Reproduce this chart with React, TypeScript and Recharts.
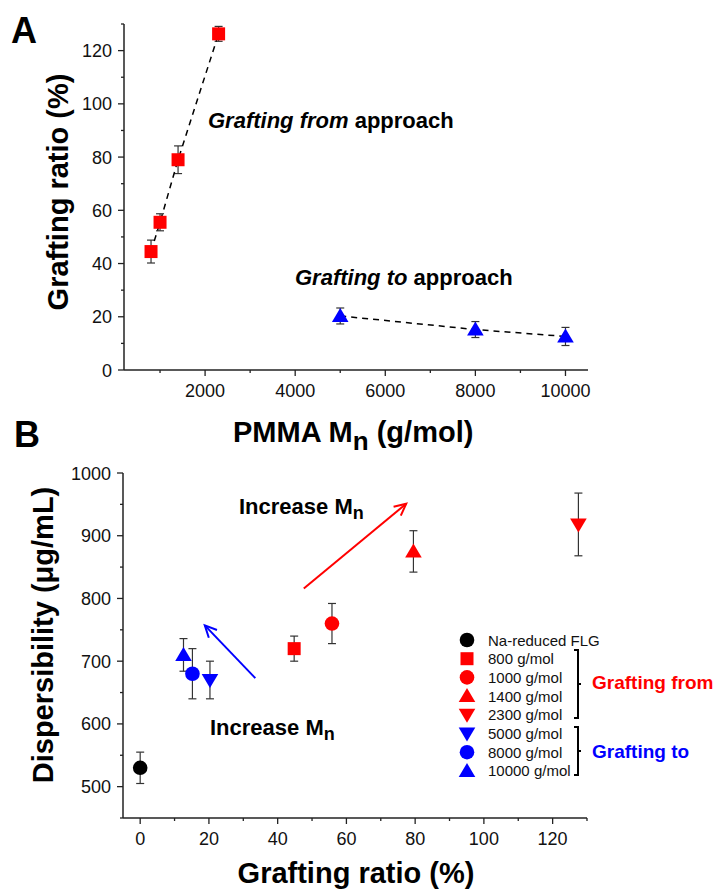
import {
  ScatterChart,
  Scatter,
  XAxis,
  YAxis,
  ErrorBar,
  ReferenceLine,
} from "recharts";

// Panel A: grafting ratio vs PMMA Mn
const mnFrom = [800, 1000, 1400, 2300];
const ratioFrom = [44.5, 55.5, 79, 126.3];
const ratioFromErr = [4.3, 3.2, 5.2, 2.8];
const mnTo = [5000, 8000, 10000];
const ratioTo = [20.3, 15.2, 12.6];
const ratioToErr = [3, 3, 3.4];

// Panel B: dispersibility vs grafting ratio
const seriesNames = [
  "Na-reduced FLG",
  "800 g/mol",
  "1000 g/mol",
  "1400 g/mol",
  "2300 g/mol",
  "5000 g/mol",
  "8000 g/mol",
  "10000 g/mol",
];
const seriesRatio = [0, 44.8, 55.8, 79.5, 127.5, 20.3, 15.2, 12.6];
const seriesDisp = [530, 720, 760, 875, 918, 670, 680, 710];
const seriesDispErr = [25, 20, 32, 33, 50, 30, 40, 26];

// arrows, in data units [ratio, dispersibility]
const arrowFromStart = [47.6, 816];
const arrowFromEnd = [77.4, 951];
const arrowToStart = [33.5, 673];
const arrowToEnd = [18.8, 757];

// tick values
const ticksAX = [1000, 2000, 3000, 4000, 5000, 6000, 7000, 8000, 9000, 10000];
const ticksAY = [0, 10, 20, 30, 40, 50, 60, 70, 80, 90, 100, 110, 120, 130];
const ticksBX = [0, 10, 20, 30, 40, 50, 60, 70, 80, 90, 100, 110, 120, 130];
const ticksBY = [450, 500, 550, 600, 650, 700, 750, 800, 850, 900, 950, 1000];

const RED = "#ff0000";
const BLUE = "#0000ff";
const AXIS = "#222";
const FONT = "'Liberation Sans', Arial, sans-serif";

const seriesShape = ["circle", "square", "circle", "up", "down", "down", "circle", "up"];
const seriesColor = ["#000", RED, RED, RED, RED, BLUE, BLUE, BLUE];

const marker = (kind: string, cx: number, cy: number, color: string) => {
  switch (kind) {
    case "square":
      return <rect x={cx - 6.5} y={cy - 6.5} width={13} height={13} fill={color} />;
    case "circle":
      return <circle cx={cx} cy={cy} r={7.3} fill={color} />;
    case "up":
      return <path d={`M${cx},${cy - 8} L${cx + 8.3},${cy + 6} L${cx - 8.3},${cy + 6} Z`} fill={color} />;
    default:
      return <path d={`M${cx},${cy + 8} L${cx + 8.3},${cy - 6} L${cx - 8.3},${cy - 6} Z`} fill={color} />;
  }
};

const makeTick = (orient: "x" | "y", step: number) => (props: any) => {
  const { x, y, payload } = props;
  const v = payload.value;
  const major = v % step === 0;
  const len = major ? 6 : 3;
  if (orient === "x") {
    return (
      <g>
        <line x1={x} y1={y} x2={x} y2={y + len} stroke={AXIS} strokeWidth={1.3} />
        {major && (
          <text x={x} y={y + 26.5} textAnchor="middle" fontSize={18} fill="#111" fontFamily={FONT}>
            {v}
          </text>
        )}
      </g>
    );
  }
  return (
    <g>
      <line x1={x} y1={y} x2={x - len} y2={y} stroke={AXIS} strokeWidth={1.3} />
      {major && (
        <text x={x - 12} y={y + 6.5} textAnchor="end" fontSize={18} fill="#111" fontFamily={FONT}>
          {v}
        </text>
      )}
    </g>
  );
};

const Arrow = (color: string) => (p: any) => {
  const { x1, y1, x2, y2 } = p;
  const ang = Math.atan2(y2 - y1, x2 - x1);
  const h = 13;
  const a1 = ang + Math.PI - 0.45;
  const a2 = ang + Math.PI + 0.45;
  return (
    <g stroke={color} strokeWidth={2} fill="none">
      <line x1={x1} y1={y1} x2={x2} y2={y2} />
      <path
        d={`M${x2 + h * Math.cos(a1)},${y2 + h * Math.sin(a1)} L${x2},${y2} L${x2 + h * Math.cos(a2)},${y2 + h * Math.sin(a2)}`}
      />
    </g>
  );
};

const fromRows = mnFrom.map((x, i) => ({ x, y: ratioFrom[i], err: ratioFromErr[i] }));
const toRows = mnTo.map((x, i) => ({ x, y: ratioTo[i], err: ratioToErr[i] }));

const dashLine = { stroke: "#000", strokeWidth: 1.5, strokeDasharray: "6 5" };

const ChartA = () => (
  <ScatterChart width={715} height={400} margin={{ top: 24, right: 127, bottom: 0, left: 74 }}>
    <XAxis
      type="number"
      dataKey="x"
      domain={[200, 10500]}
      ticks={ticksAX}
      interval={0}
      height={30}
      tickSize={0}
      tickMargin={0}
      tickLine={false}
      axisLine={{ stroke: AXIS, strokeWidth: 1.5 }}
      tick={makeTick("x", 2000)}
    />
    <YAxis
      type="number"
      dataKey="y"
      domain={[0, 130]}
      ticks={ticksAY}
      interval={0}
      width={50}
      tickSize={0}
      tickMargin={0}
      tickLine={false}
      axisLine={{ stroke: AXIS, strokeWidth: 1.5 }}
      tick={makeTick("y", 20)}
    />
    <Scatter
      data={fromRows}
      line={dashLine}
      isAnimationActive={false}
      shape={(p: any) => marker("square", p.cx, p.cy, RED)}
    >
      <ErrorBar dataKey="err" direction="y" width={4} stroke="#333" strokeWidth={1.2} isAnimationActive={false} />
    </Scatter>
    <Scatter
      data={toRows}
      line={dashLine}
      isAnimationActive={false}
      shape={(p: any) => marker("up", p.cx, p.cy, BLUE)}
    >
      <ErrorBar dataKey="err" direction="y" width={4} stroke="#333" strokeWidth={1.2} isAnimationActive={false} />
    </Scatter>
  </ScatterChart>
);

const ChartB = () => (
  <ScatterChart width={715} height={470} margin={{ top: 53, right: 128, bottom: 32, left: 73 }}>
    <XAxis
      type="number"
      dataKey="x"
      domain={[-5, 130]}
      ticks={ticksBX}
      interval={0}
      height={40}
      tickSize={0}
      tickMargin={0}
      tickLine={false}
      axisLine={{ stroke: AXIS, strokeWidth: 1.5 }}
      tick={makeTick("x", 20)}
    />
    <YAxis
      type="number"
      dataKey="y"
      domain={[450, 1000]}
      ticks={ticksBY}
      interval={0}
      width={50}
      tickSize={0}
      tickMargin={0}
      tickLine={false}
      axisLine={{ stroke: AXIS, strokeWidth: 1.5 }}
      tick={makeTick("y", 100)}
    />
    <ReferenceLine
      segment={[
        { x: arrowFromStart[0], y: arrowFromStart[1] },
        { x: arrowFromEnd[0], y: arrowFromEnd[1] },
      ]}
      shape={Arrow(RED)}
    />
    <ReferenceLine
      segment={[
        { x: arrowToStart[0], y: arrowToStart[1] },
        { x: arrowToEnd[0], y: arrowToEnd[1] },
      ]}
      shape={Arrow(BLUE)}
    />
    {seriesNames.map((name, i) => (
      <Scatter
        key={name}
        name={name}
        data={[{ x: seriesRatio[i], y: seriesDisp[i], err: seriesDispErr[i] }]}
        isAnimationActive={false}
        shape={(p: any) => marker(seriesShape[i], p.cx, p.cy, seriesColor[i])}
      >
        <ErrorBar dataKey="err" direction="y" width={4} stroke="#333" strokeWidth={1.2} isAnimationActive={false} />
      </Scatter>
    ))}
  </ScatterChart>
);

const Overlay = () => (
  <svg
    width={715}
    height={890}
    style={{ position: "absolute", top: 0, left: 0, pointerEvents: "none" }}
    fontFamily={FONT}
    fill="#000"
  >
    <text x={11} y={43} fontSize={36} fontWeight="bold">A</text>
    <text x={14} y={447} fontSize={36} fontWeight="bold">B</text>

    {/* panel A titles */}
    <text transform="translate(68,192) rotate(-90)" textAnchor="middle" fontSize={29} fontWeight="bold">
      Grafting ratio (%)
    </text>
    <text x={233} y={442} fontSize={29} fontWeight="bold">
      PMMA M<tspan fontSize={26} dy={8}>n</tspan>
      <tspan dy={-8}> (g/mol)</tspan>
    </text>
    <text x={208} y={128} fontSize={22} fontWeight="bold">
      <tspan fontStyle="italic">Grafting from</tspan>
      <tspan>{" approach"}</tspan>
    </text>
    <text x={295} y={285} fontSize={22} fontWeight="bold">
      <tspan fontStyle="italic">Grafting to</tspan>
      <tspan>{" approach"}</tspan>
    </text>

    {/* panel B titles */}
    <text transform="translate(53,635) rotate(-90)" textAnchor="middle" fontSize={29} fontWeight="bold">
      Dispersibility (μg/mL)
    </text>
    <text x={356} y={883} textAnchor="middle" fontSize={29} fontWeight="bold">
      Grafting ratio (%)
    </text>
    <text x={239} y={514} fontSize={22} fontWeight="bold">
      Increase M<tspan fontSize={18} dy={5}>n</tspan>
    </text>
    <text x={210} y={735} fontSize={22} fontWeight="bold">
      Increase M<tspan fontSize={18} dy={5}>n</tspan>
    </text>

    {/* legend */}
    {seriesNames.map((name, i) => {
      const cy = 640 + i * 18.7;
      return (
        <g key={name}>
          {marker(seriesShape[i], 467, cy, seriesColor[i])}
          <text x={488} y={cy + 5.5} fontSize={15} fill="#111">
            {name}
          </text>
        </g>
      );
    })}
    <path d="M574,650 H578 V718 H574 M578,684 H581" stroke="#000" strokeWidth={2} fill="none" />
    <path d="M574,727 H578 V775 H574 M578,751 H581" stroke="#000" strokeWidth={2} fill="none" />
    <text x={592} y={689} fontSize={19} fontWeight="bold" fill={RED}>Grafting from</text>
    <text x={592} y={758} fontSize={19} fontWeight="bold" fill={BLUE}>Grafting to</text>
  </svg>
);

export default function App() {
  return (
    <div style={{ position: "absolute", top: 0, left: 0, width: 715, height: 890, background: "#fff", fontFamily: FONT }}>
      <div style={{ position: "absolute", top: 0, left: 0 }}>
        <ChartA />
      </div>
      <div style={{ position: "absolute", top: 420, left: 0 }}>
        <ChartB />
      </div>
      <Overlay />
    </div>
  );
}
